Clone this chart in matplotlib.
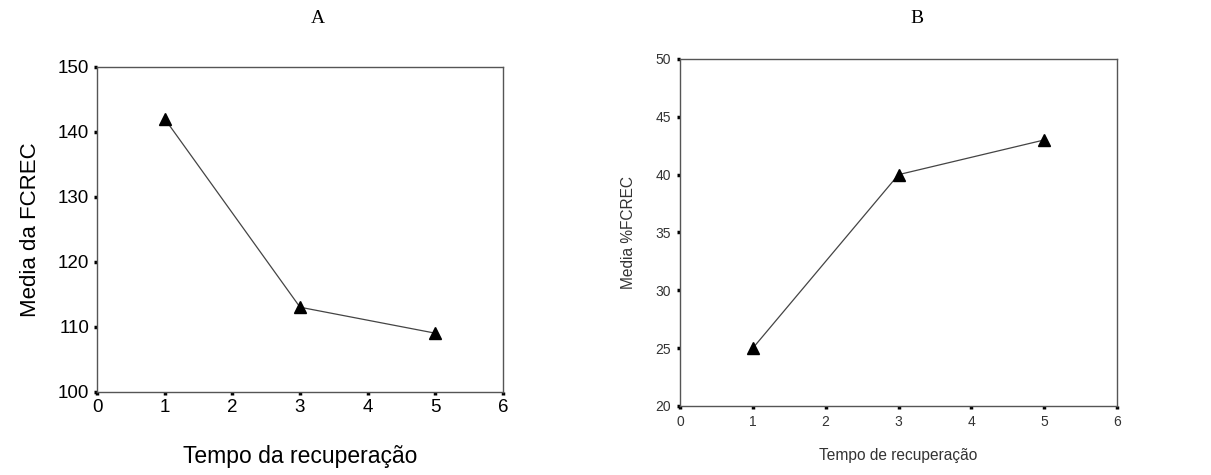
import matplotlib
matplotlib.use("Agg")
import matplotlib.pyplot as plt

# Data
tempo = [1, 3, 5]
fcrec_a = [142, 113, 109]
pct_fcrec_b = [25, 40, 43]

xticks = [0, 1, 2, 3, 4, 5, 6]
yticks_a = [100, 110, 120, 130, 140, 150]
yticks_b = [20, 25, 30, 35, 40, 45, 50]

plt.rcParams['font.family'] = ['Liberation Sans', 'DejaVu Sans']

fig = plt.figure(figsize=(12.11, 4.75), dpi=100)

axA = fig.add_axes([0.0801, 0.1754, 0.3353, 0.684])
axB = fig.add_axes([0.5615, 0.1453, 0.3609, 0.7305])

def style(ax, fs, pad):
    for s in ax.spines.values():
        s.set_color('#555555')
        s.set_linewidth(1.0)
    ax.tick_params(direction='out', length=2.5, width=2.5, color='black',
                   labelsize=fs, pad=pad)

# Chart A
axA.plot(tempo, fcrec_a, color='#444444', lw=0.9, marker='^', ms=9,
         mfc='black', mec='black', zorder=3, clip_on=False)
axA.set_xlim(0, 6)
axA.set_ylim(100, 150)
axA.set_xticks(xticks)
axA.set_yticks(yticks_a)
style(axA, 13.5, 3)
axA.set_ylabel('Media da FCREC', fontsize=16, labelpad=12)
axA.set_xlabel('Tempo da recuperação', fontsize=16.5, labelpad=21)
fig.text(0.2626, 0.962, 'A', family='Liberation Serif', fontsize=14,
         ha='center', va='center')

# Chart B
axB.plot(tempo, pct_fcrec_b, color='#444444', lw=0.9, marker='^', ms=9,
         mfc='black', mec='black', zorder=3, clip_on=False)
axB.set_xlim(0, 6)
axB.set_ylim(20, 50)
axB.set_xticks(xticks)
axB.set_yticks(yticks_b)
style(axB, 10, 4)
for lbl in axB.get_xticklabels() + axB.get_yticklabels():
    lbl.set_color('#333333')
axB.set_ylabel('Media %FCREC', fontsize=11.2, labelpad=14, color='#333333')
axB.set_xlabel('Tempo de recuperação', fontsize=11.2, labelpad=14, color='#333333')
fig.text(0.757, 0.962, 'B', family='Liberation Serif', fontsize=14,
         ha='center', va='center')

fig.savefig('out.png', dpi=100)
